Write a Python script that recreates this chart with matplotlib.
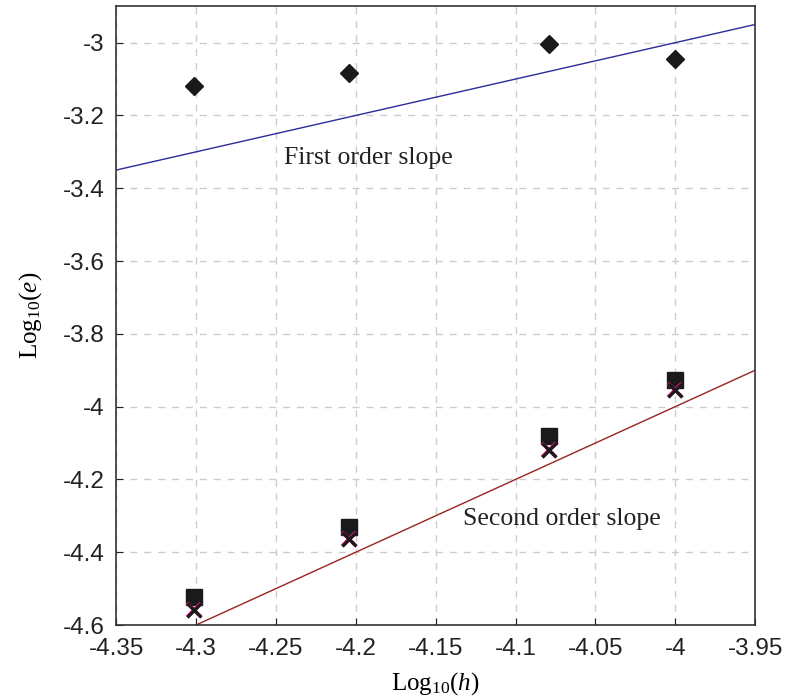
import numpy as np
import matplotlib.pyplot as plt

# log10 of step sizes
logh = [-4.30103, -4.20412, -4.07918, -4.0]
# log10 of errors for the three schemes
err_first = [-3.118, -3.082, -3.003, -3.044]
err_sq = [-4.522, -4.330, -4.082, -3.926]
err_x = [-4.560, -4.365, -4.118, -3.953]

# reference slope lines
x1 = np.array([-4.35, -3.95])
x2 = np.array([-4.30, -3.95])

plt.rcParams['font.family'] = 'Liberation Sans'
plt.rcParams['mathtext.fontset'] = 'custom'
plt.rcParams['mathtext.rm'] = 'Liberation Serif'
plt.rcParams['mathtext.it'] = 'Liberation Serif:italic'

fig = plt.figure(figsize=(7.85, 6.96), dpi=100)
ax = fig.add_axes([0.148, 0.102, 0.814, 0.889])

ax.plot(x1, x1 + 1.0, color='#2b2b9a', lw=1.0)
ax.plot(x2, 2*x2 + 4.0, color='#9a2222', lw=1.0)

ax.plot(logh, err_first, 'D', color='#1a1a1a', ms=9)
ax.plot(logh, err_sq, 's', color='#1a1a1a', ms=11)
ax.plot(logh, err_x, 'x', color='#e0208a', ms=10, mew=2.6)
ax.plot(logh, err_x, 'x', color='#1a1a1a', ms=9.5, mew=2.3)

ax.text(-4.245, -3.316, 'First order slope', family='Liberation Serif', fontsize=18.5,
        va='center', color='#222222')
ax.text(-4.133, -4.31, 'Second order slope', family='Liberation Serif', fontsize=18.5,
        va='center', color='#222222')

ax.set_xlim(-4.35, -3.95)
ax.set_ylim(-4.6, -2.9)
ax.set_xticks(np.arange(-4.35, -3.949, 0.05))
ax.set_xticklabels(['-4.35', '-4.3', '-4.25', '-4.2', '-4.15', '-4.1', '-4.05', '-4', '-3.95'])
ax.set_yticks(np.arange(-4.6, -2.99, 0.2))
ax.set_yticklabels(['-4.6', '-4.4', '-4.2', '-4', '-3.8', '-3.6', '-3.4', '-3.2', '-3'])
ax.tick_params(direction='in', labelsize=17.5, length=5, colors='#222222')
ax.tick_params(axis='x', pad=9)
ax.tick_params(axis='y', pad=8.5)
ax.grid(True, ls=(0, (5, 5)), color='#cccccc', lw=1)

for s in ax.spines.values():
    s.set_color('#333333')
    s.set_linewidth(1.2)

ax.set_xlabel(r'Log$_{10}$($h$)', family='Liberation Serif', fontsize=18, labelpad=8)
ax.set_ylabel(r'Log$_{10}$($e$)', family='Liberation Serif', fontsize=18, labelpad=13)

fig.savefig('out.png', dpi=100)
